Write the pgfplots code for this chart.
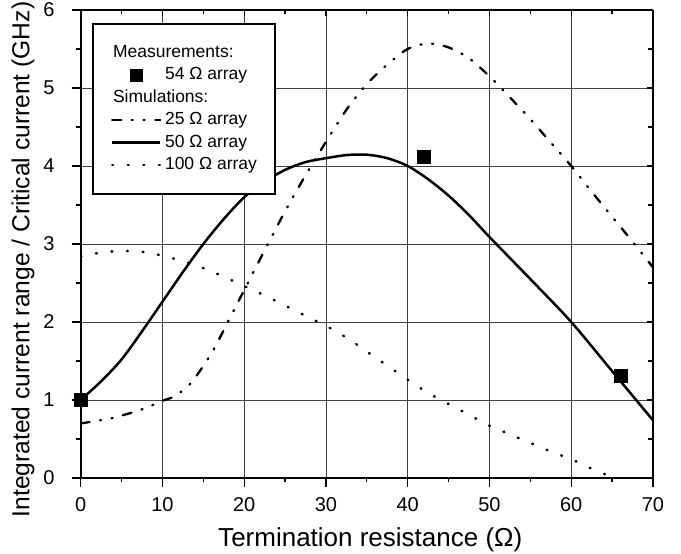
\documentclass[border=0pt]{standalone}
\usepackage{fontspec}
\setmainfont{Liberation Sans}
\usepackage{pgfplots}
\pgfplotsset{compat=1.18}
\begin{document}
\begin{tikzpicture}
\pgfplotsset{
  common/.style={
    scale only axis, width=572.3pt, height=468pt,
    xmin=0, xmax=70, ymin=0, ymax=6,
    xtick={0,10,...,70}, ytick={0,1,...,6},
    minor xtick={5,15,...,65}, minor ytick={0.5,1.5,...,5.5},
    every tick/.style={black, line width=1.3pt},
    axis line style={line width=2pt},
  }
}
\begin{axis}[common,
  axis x line*=bottom, axis y line*=left,
  tick align=outside,
  major tick length=9pt, minor tick length=4.5pt,
  grid=major,
  major grid style={black!75, line width=0.7pt},
  /pgf/number format/assume math mode=true,
  ticklabel style={font=\fontsize{20}{24}\selectfont},
  yticklabel style={inner sep=0pt, anchor=east, xshift=-17pt},
  xticklabel style={inner sep=0pt, anchor=north},
  xticklabel shift=10pt,
  xlabel={Termination resistance (Ω)},
  ylabel={Integrated current range / Critical current (GHz)},
  label style={font=\fontsize{26}{30}\selectfont},
  xlabel style={at={(axis description cs:0.506,-0.1474)}, anchor=base},
  ylabel style={at={(axis description cs:-0.0746,0.467)}, anchor=south, font=\fontsize{24.6}{30}\selectfont},
  legend cell align=left,
  legend style={at={(0.0198,0.9722)}, anchor=north west, draw=black, line width=1.8pt,
    font=\fontsize{17.5}{21}\selectfont, row sep=6.4pt, column sep=3.5pt,
    inner xsep=18pt, inner ysep=21pt,
    nodes={inner sep=0pt, text height=12.5pt, text depth=3.5pt}},
  legend image code/.code={\draw[mark repeat=2,mark phase=2,#1] plot coordinates {(0pt,0pt) (24pt,0pt) (48pt,0pt)};},
]
\coordinate (o) at (rel axis cs:0,0);
\addlegendimage{empty legend}
\addlegendentry{\hspace*{-52pt}Measurements:}
\addlegendimage{only marks, mark=square*, mark size=5.5pt, black}
\addlegendentry{54 Ω array}
\addlegendimage{empty legend}
\addlegendentry{\hspace*{-52pt}Simulations:}
\addplot[black, line width=2.3pt, smooth, tension=0.5, line cap=round,
  dash pattern=on 9pt off 10.5pt on 1.2pt off 10.5pt on 1.2pt off 10.5pt] coordinates {
(0,0.70) (3.7,0.765) (7.5,0.88) (10,0.99) (11.5,1.05) (13.5,1.22) (16,1.6) (18,2.0) (20,2.41)
(22.5,2.92) (25,3.42) (27.5,3.88) (30,4.31) (32.5,4.72) (35,5.05) (37.5,5.3) (40,5.5)
(42.5,5.57) (45,5.52) (47.5,5.38) (50,5.15) (52.5,4.88) (55,4.6) (57.5,4.3) (60,4.0)
(62.5,3.67) (65,3.35) (67.5,3.03) (70,2.7)};
\addlegendentry{25 Ω array}
\addplot[black, line width=2.5pt, smooth, tension=0.5] coordinates {
(0,1.0) (2.5,1.24) (5,1.52) (7.5,1.88) (10,2.26) (12.5,2.64) (15,3.0) (17.5,3.32)
(20,3.6) (22.5,3.8) (25,3.95) (27.5,4.05) (30,4.1) (32.5,4.14) (35,4.145) (37.5,4.1)
(40,4.0) (42.5,3.83) (45,3.62) (47.5,3.37) (50,3.09) (55,2.55) (60,2.0) (65,1.37) (70,0.74)};
\addlegendentry{50 Ω array}
\addplot[black, line width=2.6pt, smooth, tension=0.5, line cap=round,
  dash pattern=on 0.8pt off 14.8pt] coordinates {
(0,2.84) (2.5,2.89) (5,2.91) (7.5,2.9) (10,2.85) (12.5,2.78) (15,2.69) (17.5,2.58)
(20,2.46) (22.5,2.34) (25,2.21) (27.5,2.08) (30,1.95) (32.5,1.8) (35,1.62) (37.5,1.44)
(40,1.26) (42.5,1.09) (45,0.95) (47.5,0.81) (50,0.67) (52.5,0.56) (55,0.45) (57.5,0.34)
(60,0.24) (62.5,0.12) (65,0.01)};
\addlegendentry{100 Ω array}
\addplot[only marks, mark=square*, mark size=6.5pt, black, forget plot] coordinates {
(0,1.0) (42,4.12) (66,1.31)};
\end{axis}
\begin{axis}[common,
  axis x line*=top, axis y line*=right,
  tick align=inside,
  major tick length=6pt, minor tick length=4.5pt,
  xticklabels={}, yticklabels={},
]
\end{axis}
\pgfresetboundingbox
\useasboundingbox ([shift={(-80.7pt,-76pt)}]o) rectangle ++(681pt,554pt);
\end{tikzpicture}
\end{document}
